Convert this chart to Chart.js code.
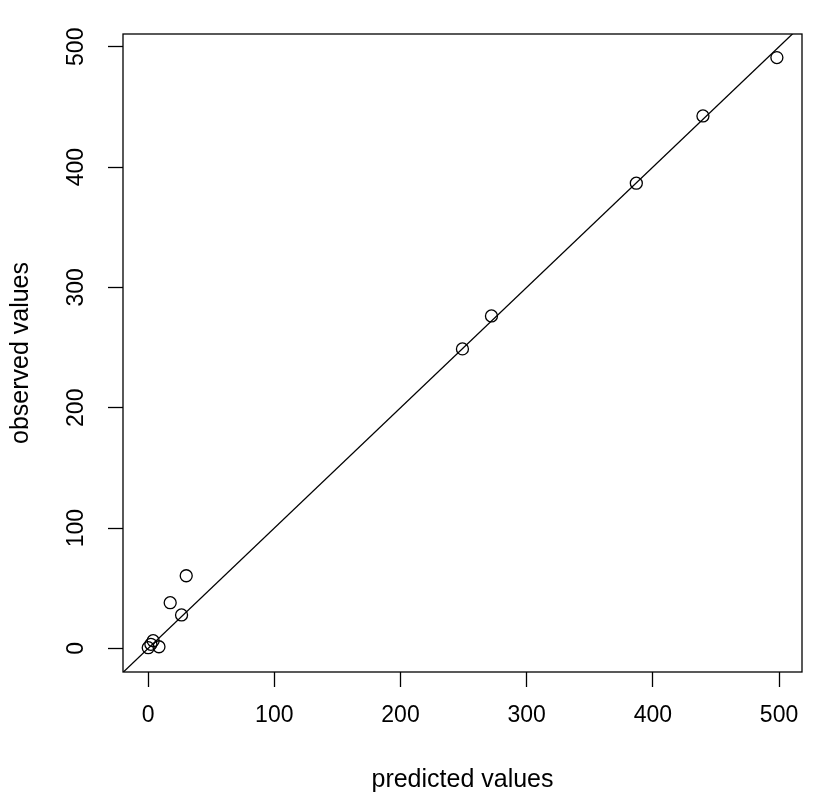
<!DOCTYPE html>
<html><head><meta charset="utf-8">
<script src="https://cdn.jsdelivr.net/npm/chart.js@4"></script>
<style>html,body{margin:0;padding:0;background:#fff}#wrap{width:827px;height:800px;position:relative}</style>
</head><body><div id="wrap"><canvas id="c"></canvas></div>
<script>
const predicted = [498.3, 439.7, 386.9, 272.1, 249.1, 30.2, 17.5, 26.5, 4.0, 0.1, 8.6, 2.2];
const observed  = [491.0, 442.5, 386.6, 276.3, 248.9, 60.4, 38.0, 27.8, 6.4, 0.6, 1.4, 3.4];
const refLineX = [-20, 520];
const refLineY = [-20, 520];
const xTicks = [0, 100, 200, 300, 400, 500];
const yTicks = [0, 100, 200, 300, 400, 500];
const xRange = [-19.9, 518.2];
const yRange = [-19.6, 510.6];

Chart.defaults.font.family = "'Liberation Sans', Arial, Helvetica, sans-serif";
Chart.defaults.color = '#000';

const boxPlugin = {
  id: 'box',
  afterDraw(chart) {
    const a = chart.chartArea, ctx = chart.ctx;
    ctx.save();
    ctx.strokeStyle = '#000';
    ctx.lineWidth = 1.3;
    ctx.strokeRect(a.left, a.top, a.right - a.left, a.bottom - a.top);
    ctx.restore();
  }
};

const tickGrid = { display: true, drawOnChartArea: false, drawTicks: true, tickLength: 15, tickColor: '#000', tickWidth: 1.3 };

new Chart(document.getElementById('c'), {
  type: 'scatter',
  data: {
    datasets: [
      {
        data: predicted.map((x, i) => ({ x, y: observed[i] })),
        pointStyle: 'circle',
        pointRadius: 6,
        pointBorderWidth: 1.3,
        pointBorderColor: '#000',
        pointBackgroundColor: 'rgba(0,0,0,0)',
        showLine: false
      },
      {
        data: refLineX.map((x, i) => ({ x, y: refLineY[i] })),
        showLine: true,
        borderColor: '#000',
        borderWidth: 1.3,
        pointRadius: 0,
        fill: false
      }
    ]
  },
  options: {
    responsive: true,
    maintainAspectRatio: false,
    devicePixelRatio: 1,
    animation: false,
    layout: { padding: { top: 34, right: 25, bottom: 0, left: 0 } },
    plugins: { legend: { display: false }, tooltip: { enabled: false } },
    scales: {
      x: {
        type: 'linear',
        min: xRange[0], max: xRange[1],
        afterBuildTicks: s => { s.ticks = xTicks.map(v => ({ value: v })); },
        afterFit: s => { s.height = 128; },
        grid: tickGrid,
        border: { display: false },
        ticks: { autoSkip: false, maxRotation: 0, minRotation: 0, padding: 15, font: { size: 23 }, color: '#000' },
        title: { display: true, text: 'predicted values', font: { size: 25 }, color: '#000', padding: { top: 0, bottom: 5 } }
      },
      y: {
        type: 'linear',
        min: yRange[0], max: yRange[1],
        afterBuildTicks: s => { s.ticks = yTicks.map(v => ({ value: v })); },
        afterFit: s => { s.width = 123; },
        grid: tickGrid,
        border: { display: false },
        ticks: { autoSkip: false, minRotation: 90, maxRotation: 90, crossAlign: 'center', padding: 12, font: { size: 23 }, color: '#000' },
        title: { display: true, text: 'observed values', font: { size: 25 }, color: '#000', padding: { top: 6, bottom: 0 } }
      }
    }
  },
  plugins: [boxPlugin]
});
</script>
</body></html>
